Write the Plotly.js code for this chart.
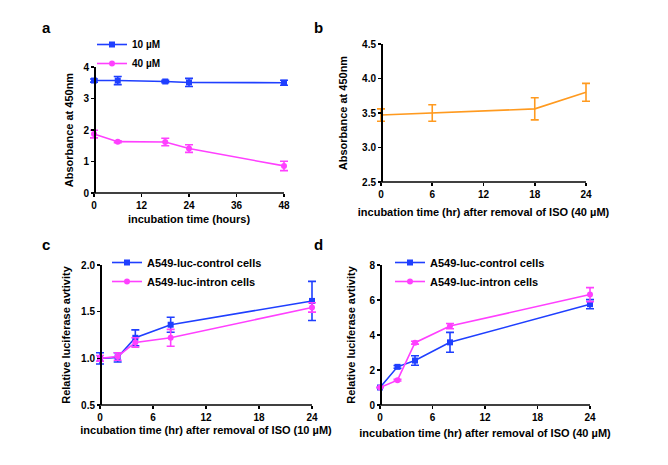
<!DOCTYPE html>
<html><head><meta charset="utf-8">
<script src="https://cdn.plot.ly/plotly-3.0.1.min.js"></script>
<style>html,body{margin:0;padding:0;background:#fff;}#plot{width:668px;height:465px;}</style>
</head><body><div id="plot"></div>
<script>
// Panel a
const aTime = [0, 6, 18, 24, 48];
const a10 = [3.57, 3.57, 3.54, 3.51, 3.50];
const a10err = [0.05, 0.13, 0.04, 0.13, 0.08];
const a40 = [1.87, 1.63, 1.62, 1.41, 0.86];
const a40err = [0.12, 0.03, 0.12, 0.12, 0.15];
// Panel b
const bTime = [0, 6, 18, 24];
const bVal = [3.47, 3.50, 3.56, 3.80];
const bErr = [0.09, 0.12, 0.16, 0.13];
// Panel c
const cTime = [0, 2, 4, 8, 24];
const cCtrl = [1.00, 1.01, 1.22, 1.36, 1.615];
const cCtrlErr = [0.06, 0.05, 0.085, 0.08, 0.21];
const cIntr = [1.00, 1.02, 1.17, 1.22, 1.545];
const cIntrErr = [0.03, 0.04, 0.05, 0.09, 0.05];
// Panel d
const dTime = [0, 2, 4, 8, 24];
const dCtrl = [1.00, 2.18, 2.54, 3.58, 5.76];
const dCtrlErr = [0.0, 0.08, 0.27, 0.57, 0.26];
const dIntr = [1.00, 1.42, 3.56, 4.51, 6.31];
const dIntrErr = [0.0, 0.05, 0.08, 0.15, 0.40];

const BLUE = '#1f3fff', PINK = '#ff40ff', ORANGE = '#ff9a1f';
const W = 668, H = 465;
const px = v => v / W, py = v => 1 - v / H;
const FONT = 'Liberation Sans, Arial, sans-serif';

function eb(arr, color) {
  return {type: 'data', array: arr, visible: true, color: color, thickness: 1.6, width: 4};
}
function tr(x, y, err, color, sym, name, xa, ya, leg, showleg) {
  return {x: x, y: y, type: 'scatter', mode: sym ? 'lines+markers' : 'lines', name: name,
    xaxis: xa, yaxis: ya, legend: leg, showlegend: showleg,
    line: {color: color, width: 1.6},
    marker: {symbol: sym || 'circle', size: 6, color: color},
    error_y: eb(err, color), cliponaxis: false};
}
const data = [
  tr(aTime, a10, a10err, BLUE, 'square', '10 \u00b5M', 'x', 'y', 'legend', true),
  tr(aTime, a40, a40err, PINK, 'circle', '40 \u00b5M', 'x', 'y', 'legend', true),
  tr(bTime, bVal, bErr, ORANGE, null, 'ISO', 'x2', 'y2', 'legend', false),
  tr(cTime, cCtrl, cCtrlErr, BLUE, 'square', 'A549-luc-control cells', 'x3', 'y3', 'legend2', true),
  tr(cTime, cIntr, cIntrErr, PINK, 'circle', 'A549-luc-intron cells', 'x3', 'y3', 'legend2', true),
  tr(dTime, dCtrl, dCtrlErr, BLUE, 'square', 'A549-luc-control cells', 'x4', 'y4', 'legend3', true),
  tr(dTime, dIntr, dIntrErr, PINK, 'circle', 'A549-luc-intron cells', 'x4', 'y4', 'legend3', true)
];

const TF = {family: FONT, size: 10, color: '#000', weight: 'bold'};
const TITLEF = {family: FONT, size: 11, color: '#000', weight: 'bold'};
const PADF = 0.03; // fraction of data range added on each x side so end error bars are not clipped

// x axis: x0px/x1px are the pixel positions of the first and last data value
function xax(x0px, x1px, anchor, lo, hi, dtick, title, standoff) {
  const pad = (hi - lo) * PADF, padpx = (x1px - x0px) * PADF;
  return {domain: [px(x0px - padpx), px(x1px + padpx)], anchor: anchor, range: [lo - pad, hi + pad],
    dtick: dtick, tick0: 0,
    showgrid: false, zeroline: false, showline: false,
    ticks: 'outside', ticklen: 3, tickwidth: 1.6, tickcolor: '#000',
    tickfont: TF, title: {text: title, font: TITLEF, standoff: standoff}, fixedrange: true};
}
function yax(dom, xpos, range, dtick, title, fmt, standoff) {
  return {domain: dom, anchor: 'free', position: px(xpos), range: range, dtick: dtick, tick0: 0, tickformat: fmt,
    showgrid: false, zeroline: false, showline: true, linecolor: '#000', linewidth: 1.6,
    ticks: 'outside', ticklen: 3, tickwidth: 1.6, tickcolor: '#000',
    tickfont: TF, title: {text: title, font: TITLEF, standoff: standoff}, fixedrange: true};
}
function xline(xr, yr, lo, hi) {
  return {type: 'line', xref: xr, yref: yr + ' domain', x0: lo, x1: hi, y0: 0, y1: 0,
    line: {color: '#000', width: 1.6}, layer: 'above'};
}
function letter(t, x, y) {
  return {text: '<b>' + t + '</b>', x: px(x), y: py(y), xref: 'paper', yref: 'paper',
    showarrow: false, xanchor: 'center', yanchor: 'middle',
    font: {family: FONT, size: 15, color: '#000'}};
}
function legend(x, y, size) {
  return {x: px(x), y: py(y), xanchor: 'left', yanchor: 'top', bgcolor: 'rgba(0,0,0,0)',
    font: {family: FONT, size: size, color: '#000', weight: 'bold'}, itemwidth: 30, tracegroupgap: 0};
}
const layout = {
  width: W, height: H, margin: {l: 0, r: 0, t: 0, b: 0},
  paper_bgcolor: '#fff', plot_bgcolor: '#fff', showlegend: true,
  xaxis: xax(94, 284, 'y', 0, 48, 12, 'incubation time (hours)', 5),
  yaxis: yax([py(193), py(67)], 94, [0, 4], 1, 'Absorbance at 450nm', 'd', 6),
  xaxis2: xax(381, 586, 'y2', 0, 24, 6, 'incubation time (hr) after removal of ISO (40 \u00b5M)', 9),
  yaxis2: yax([py(182), py(44)], 381, [2.5, 4.5], 0.5, 'Absorbance at 450nm', '.1f', 10),
  xaxis3: xax(100, 312, 'y3', 0, 24, 6, 'incubation time (hr) after removal of ISO (10 \u00b5M)', 4),
  yaxis3: yax([py(405), py(265)], 100, [0.5, 2.0], 0.5, 'Relative luciferase avtivity', '.1f', 6),
  xaxis4: xax(380, 590, 'y4', 0, 24, 6, 'incubation time (hr) after removal of ISO (40 \u00b5M)', 7),
  yaxis4: yax([py(405), py(265)], 380, [0, 8], 2, 'Relative luciferase avtivity', 'd', 10),
  legend: legend(92, 30, 10),
  legend2: legend(107, 248, 11),
  legend3: legend(390, 248, 11),
  shapes: [xline('x', 'y', 0, 48), xline('x2', 'y2', 0, 24), xline('x3', 'y3', 0, 24), xline('x4', 'y4', 0, 24)],
  annotations: [letter('a', 46, 27), letter('b', 318, 27), letter('c', 46, 244), letter('d', 318, 244)]
};
Plotly.newPlot('plot', data, layout, {displayModeBar: false, staticPlot: true});
</script></body></html>
